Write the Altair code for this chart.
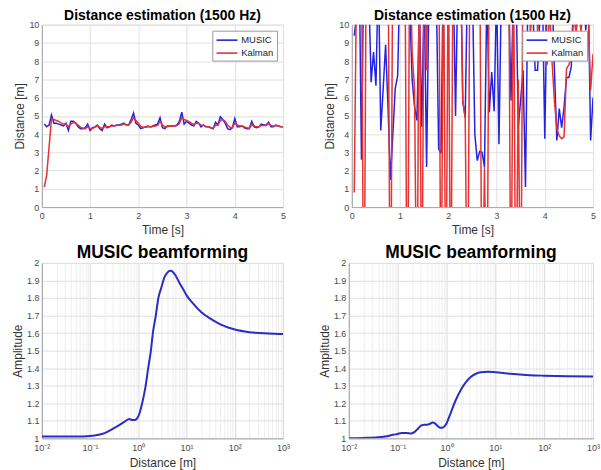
import altair as alt
import pandas as pd

# ---------------- data ----------------
time_s = [round(0.05 * i, 2) for i in range(1, 101)]

tl_music = [
    4.55, 4.40, 4.50, 5.05, 4.60, 4.60, 4.55, 4.50, 4.45, 4.60,
    4.20, 4.70, 4.70, 4.60, 4.40, 4.30, 4.30, 4.35, 4.55, 4.20,
    4.35, 4.40, 4.50, 4.30, 4.20, 4.55, 4.35, 4.40, 4.50, 4.45,
    4.50, 4.50, 4.55, 4.60, 4.50, 4.50, 4.80, 5.15, 4.60, 4.50,
    4.30, 4.35, 4.40, 4.45, 4.40, 4.45, 4.50, 4.55, 4.90, 4.35,
    4.30, 4.45, 4.45, 4.45, 4.45, 4.50, 4.70, 5.20, 4.55, 4.70,
    4.60, 4.50, 4.45, 4.70, 4.60, 4.40, 4.50, 4.40, 4.40, 4.35,
    4.30, 4.65, 4.50, 4.95, 4.80, 4.60, 4.30, 4.25, 4.35, 4.85,
    4.40, 4.40, 4.45, 4.35, 4.30, 4.30, 4.70, 4.40, 4.35, 4.40,
    4.55, 4.50, 4.50, 4.65, 4.40, 4.40, 4.50, 4.45, 4.40, 4.40,
]
tl_kalman = [
    1.10, 1.75, 3.30, 4.85, 4.80, 4.75, 4.70, 4.62, 4.55, 4.55,
    4.40, 4.55, 4.65, 4.62, 4.50, 4.38, 4.32, 4.30, 4.40, 4.30,
    4.32, 4.37, 4.45, 4.38, 4.30, 4.42, 4.40, 4.40, 4.45, 4.45,
    4.47, 4.48, 4.50, 4.55, 4.52, 4.50, 4.65, 4.90, 4.75, 4.60,
    4.42, 4.38, 4.38, 4.40, 4.40, 4.42, 4.45, 4.48, 4.70, 4.50,
    4.40, 4.42, 4.43, 4.44, 4.44, 4.47, 4.58, 4.90, 4.80, 4.75,
    4.68, 4.60, 4.52, 4.60, 4.60, 4.50, 4.48, 4.42, 4.40, 4.37,
    4.33, 4.48, 4.50, 4.75, 4.80, 4.70, 4.50, 4.38, 4.36, 4.60,
    4.50, 4.45, 4.45, 4.40, 4.35, 4.32, 4.50, 4.45, 4.40, 4.40,
    4.48, 4.48, 4.48, 4.57, 4.48, 4.43, 4.47, 4.46, 4.42, 4.40,
]

tr_music = [
    9.40, 10.5, 14.0, 2.60, 14.0, 14.0, 12.0, 6.85, 8.50, 6.65,
    13.0, 4.20, 6.50, 8.90, 5.50, 1.50, 4.00, 6.50, 7.20, 13.0,
    15.0, 14.0, 13.0, 11.0, 7.00, 5.50, 4.75, 11.0, 4.40, 12.0,
    2.20, 12.0, 15.0, 14.0, 12.0, 3.20, 2.95, 14.0, 15.0, 14.0,
    15.0, 13.0, 5.00, 13.0, 14.0, 5.80, 4.90, 13.0, 14.0, 12.0,
    4.00, 2.55, 3.05, 3.00, 2.20, 12.0, 5.20, 7.40, 5.25, 12.0,
    3.45, 12.0, 14.0, 13.0, 12.0, 5.85, 12.0, 13.0, 4.35, 5.90,
    7.50, 1.10, 12.0, 10.5, 11.0, 7.50, 7.50, 10.5, 12.0, 3.75,
    12.0, 11.0, 12.0, 7.50, 3.65, 5.40, 4.35, 5.50, 7.10, 7.10,
    7.70, 12.0, 9.80, 12.0, 10.5, 12.0, 9.70, 12.0, 3.65, 6.00,
]
tr_kalman = [
    0.80, 13.0, 16.0, 15.0, -10.0, 15.0, 16.0, 16.0, 16.0, 16.0,
    16.0, 16.0, 16.0, 16.0, 15.0, -10.0, 15.0, 16.0, 16.0, 16.0,
    16.0, 15.0, -10.0, 15.0, 8.50, 6.50, -8.0, 15.0, -8.0, 15.0,
    7.50, 16.0, 16.0, 16.0, 16.0, 16.0, -8.0, 15.0, -8.0, 15.0,
    -8.0, 15.0, 16.0, 16.0, 15.0, 5.80, 4.90, -8.0, 15.0, 16.0,
    16.0, 16.0, 15.0, -8.0, 2.20, -8.0, 15.0, 16.0, 16.0, 16.0,
    16.0, 16.0, 16.0, 16.0, 15.0, -8.0, 15.0, -8.0, 7.00, -8.0,
    15.0, 16.0, 16.0, 9.50, 11.0, 16.0, 9.60, 11.0, 16.0, 11.0,
    7.80, 11.0, 8.00, 5.80, 4.30, 3.90, 3.75, 3.85, 7.60, 7.80,
    8.20, 10.5, 9.50, 11.0, 9.60, 11.0, 12.0, 10.5, 6.40, 8.40,
]

bl_dist = [0.01, 0.02, 0.05, 0.1, 0.15, 0.2, 0.3, 0.4, 0.5, 0.6, 0.65, 0.75,
           0.85, 0.95, 1.05, 1.2, 1.4, 1.6, 1.8, 2.0, 2.3, 2.6, 3.0, 3.5, 4.0,
           4.6, 5.2, 6.0, 7.0, 8.5, 10, 14, 20, 30, 50, 100, 200, 500, 1000]
bl_amp = [1.01, 1.01, 1.01, 1.013, 1.02, 1.03, 1.055, 1.075, 1.092, 1.107, 1.11,
          1.105, 1.105, 1.115, 1.14, 1.2, 1.29, 1.40, 1.49, 1.6, 1.7, 1.80, 1.86,
          1.92, 1.945, 1.955, 1.948, 1.925, 1.89, 1.85, 1.815, 1.765, 1.72, 1.685,
          1.65, 1.62, 1.605, 1.598, 1.595]

br_dist = [0.01, 0.02, 0.04, 0.06, 0.08, 0.1, 0.12, 0.15, 0.19, 0.22, 0.26, 0.3,
           0.35, 0.4, 0.45, 0.52, 0.58, 0.65, 0.72, 0.8, 0.88, 1.0, 1.2, 1.5,
           2.0, 2.5, 3.0, 4.0, 5.0, 7.0, 10, 20, 50, 100, 300, 1000]
br_amp = [1.0, 1.002, 1.006, 1.012, 1.02, 1.025, 1.03, 1.03, 1.028, 1.035, 1.055,
          1.072, 1.078, 1.078, 1.082, 1.09, 1.085, 1.072, 1.062, 1.06, 1.065,
          1.085, 1.14, 1.21, 1.28, 1.32, 1.345, 1.368, 1.377, 1.38, 1.377, 1.368,
          1.36, 1.357, 1.354, 1.353]

series_names = ["MUSIC", "Kalman"]

# ---------------- style ----------------
FONT = "Liberation Sans"
BLUE = "#2323e6"
RED = "#e63232"
DARKBLUE = "#2b2bc8"
FRAME = "#a6a6a6"
GRID = "#e0e0e0"
LABEL = "#4a4a4a"
TITLE_AX = "#333333"


def axis_common(**kw):
    base = dict(labelFont=FONT, labelFontSize=9, labelColor=LABEL,
                titleFont=FONT, titleFontSize=12, titleFontWeight="normal",
                titleColor=TITLE_AX, domainColor=FRAME, ticks=False,
                gridColor=GRID, labelPadding=3, labelFlush=False)
    base.update(kw)
    return alt.Axis(**base)


def dist_panel(music, kalman):
    df = pd.DataFrame({
        "t": time_s + time_s,
        "d": music + kalman,
        "s": [series_names[0]] * len(music) + [series_names[1]] * len(kalman),
    })
    x = alt.X("t:Q", scale=alt.Scale(domain=[0, 5], nice=False),
              axis=axis_common(values=[0, 1, 2, 3, 4, 5], title="Time [s]",
                               labelPadding=4, titlePadding=4))
    y = alt.Y("d:Q", scale=alt.Scale(domain=[0, 10], nice=False),
              axis=axis_common(values=list(range(0, 11)), title="Distance [m]", titlePadding=2))
    color = alt.Color("s:N", scale=alt.Scale(domain=series_names, range=[BLUE, RED]),
                      legend=alt.Legend(title=None, orient="top-right", offset=6,
                                        fillColor="white", strokeColor="#9a9a9a",
                                        padding=3, symbolType="M-1,0L3,0", symbolSize=110,
                                        symbolStrokeWidth=1.6, labelFont=FONT,
                                        labelFontSize=9.5, labelColor="#222",
                                        rowPadding=2, labelOffset=13))
    base = alt.Chart(df)
    l1 = base.transform_filter(alt.datum.s == "MUSIC").mark_line(clip=True, strokeWidth=1.5).encode(x=x, y=y, color=color)
    l2 = base.transform_filter(alt.datum.s == "Kalman").mark_line(clip=True, strokeWidth=1.5).encode(x=x, y=y, color=color)
    return alt.layer(l1, l2).properties(
        width=242, height=183,
        title=alt.TitleParams("Distance estimation (1500 Hz)", font=FONT, fontSize=14,
                              fontWeight="bold", color="black", offset=-2))


log_ticks = [m * 10.0 ** e for e in range(-2, 3) for m in range(1, 10)] + [1000.0]
EXP = "round(log(datum.value)/LN10)"
label_expr = (
    f"abs(log(datum.value)/LN10 - {EXP}) > 0.01 ? '' : "
    f"({EXP} == -2 ? '10⁻²' : {EXP} == -1 ? '10⁻¹' : {EXP} == 0 ? '10⁰' : "
    f"{EXP} == 1 ? '10¹' : {EXP} == 2 ? '10²' : '10³')"
)


def beam_panel(dist, amp, width):
    df = pd.DataFrame({"x": dist, "y": amp})
    x = alt.X("x:Q", scale=alt.Scale(type="log", domain=[0.01, 1000], nice=False),
              axis=axis_common(values=log_ticks, labelExpr=label_expr, labelOverlap=False,
                               title="Distance [m]", labelPadding=5, titlePadding=5,
                               gridColor={"condition": {"test": f"abs(log(datum.value)/LN10 - {EXP}) < 0.01",
                                                        "value": "#dadada"},
                                          "value": "#eeeeee"}))
    y = alt.Y("y:Q", scale=alt.Scale(domain=[1, 2], nice=False, zero=False),
              axis=axis_common(values=[1, 1.1, 1.2, 1.3, 1.4, 1.5, 1.6, 1.7, 1.8, 1.9, 2],
                               format="~g", title="Amplitude", titlePadding=2))
    return alt.Chart(df).mark_line(clip=True, strokeWidth=2, color=DARKBLUE,
                                   interpolate="monotone").encode(x=x, y=y).properties(
        width=width, height=176,
        title=alt.TitleParams("MUSIC beamforming", font=FONT, fontSize=17.5,
                              fontWeight="bold", color="black", offset=-3))


top = alt.hconcat(dist_panel(tl_music, tl_kalman), dist_panel(tr_music, tr_kalman),
                  spacing=36).resolve_scale(color="independent").resolve_legend(color="independent")
bottom = alt.hconcat(beam_panel(bl_dist, bl_amp, 242), beam_panel(br_dist, br_amp, 245), spacing=26)

chart = alt.vconcat(top, bottom, spacing=8).resolve_scale(color="independent").resolve_legend(
    color="independent").properties(padding={"left": 10, "top": 7, "right": 0, "bottom": 0}
).configure_view(stroke=FRAME, strokeWidth=1).configure(background="white")

chart.save("out.html", embed_options={"renderer": "svg", "actions": False})
